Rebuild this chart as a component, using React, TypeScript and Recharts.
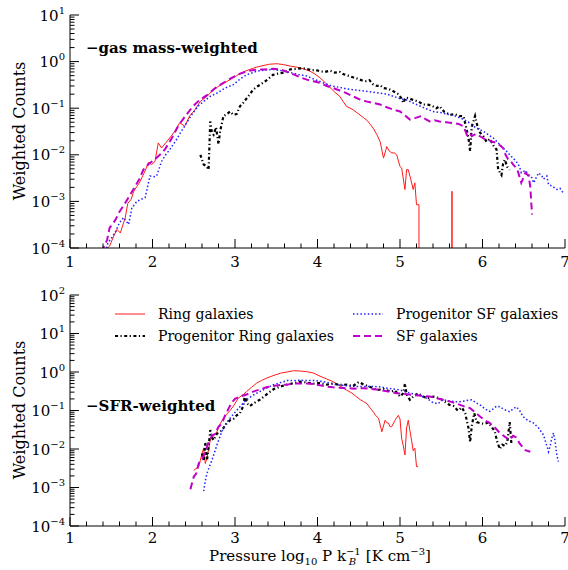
import { LineChart, Line, XAxis, YAxis } from 'recharts';

// x axis (log10 pressure) and y decades
const xMajor = [1, 2, 3, 4, 5, 6, 7];
const gasDecades = [-4, -3, -2, -1, 0, 1];
const sfrDecades = [-4, -3, -2, -1, 0, 1, 2];

const seriesNames = ['Ring galaxies', 'Progenitor Ring galaxies', 'Progenitor SF galaxies', 'SF galaxies'];

// ---- gas mass-weighted panel: [log10 P, counts]
const ringGas = [
  [1.40, 8e-5], [1.48, 1.1e-4], [1.53, 1.8e-4], [1.57, 2.5e-4], [1.61, 2.1e-4], [1.67, 4.5e-4], [1.70, 9e-4],
  [1.74, 1.1e-3], [1.77, 1.6e-3], [1.81, 2.1e-3], [1.84, 2.5e-3], [1.87, 3.2e-3], [1.91, 4.5e-3], [1.95, 6.8e-3],
  [1.99, 6.2e-3], [2.03, 7.2e-3], [2.07, 1.8e-2], [2.11, 1.4e-2], [2.16, 1.8e-2], [2.21, 2.3e-2], [2.27, 3.2e-2],
  [2.33, 4.9e-2], [2.39, 4.1e-2], [2.45, 6.8e-2], [2.51, 9e-2], [2.58, 0.14], [2.66, 0.18], [2.72, 0.23],
  [2.78, 0.28], [2.86, 0.34], [2.94, 0.41], [3.02, 0.5], [3.10, 0.6], [3.18, 0.68], [3.26, 0.76], [3.34, 0.82],
  [3.42, 0.88], [3.51, 0.9], [3.59, 0.86], [3.67, 0.8], [3.75, 0.76], [3.83, 0.7], [3.91, 0.62], [3.97, 0.54],
  [4.03, 0.45], [4.09, 0.36], [4.15, 0.28], [4.21, 0.22], [4.27, 0.18], [4.31, 0.14], [4.35, 0.11], [4.43, 0.093],
  [4.50, 0.075], [4.56, 0.062], [4.60, 0.055], [4.64, 0.045], [4.68, 0.036], [4.72, 0.027], [4.76, 0.019],
  [4.80, 0.0085], [4.84, 0.015], [4.87, 0.012], [4.90, 0.011], [4.93, 0.011], [4.96, 0.01], [5.00, 0.0056],
  [5.02, 0.0052], [5.06, 0.0018], [5.08, 0.0048], [5.10, 0.0048], [5.13, 0.003], [5.16, 0.0018], [5.18, 0.0025],
  [5.20, 0.00085], [5.23, 0.00085], [5.231, 1e-9], [5.629, 1e-9], [5.63, 1.65e-3], [5.631, 1e-9],
];
const progRingGas = [
  [2.58, 0.01], [2.62, 0.0062], [2.66, 0.0056], [2.68, 0.0048], [2.70, 0.052], [2.72, 0.03], [2.74, 0.027],
  [2.77, 0.039], [2.80, 0.017], [2.82, 0.032], [2.86, 0.068], [2.90, 0.074], [2.94, 0.085], [2.98, 0.072],
  [3.02, 0.075], [3.06, 0.11], [3.10, 0.13], [3.16, 0.18], [3.22, 0.25], [3.28, 0.3], [3.34, 0.35], [3.40, 0.42],
  [3.46, 0.52], [3.52, 0.55], [3.59, 0.58], [3.67, 0.68], [3.75, 0.7], [3.82, 0.72], [3.87, 0.7], [3.93, 0.65],
  [3.98, 0.66], [4.03, 0.62], [4.09, 0.6], [4.15, 0.64], [4.21, 0.58], [4.27, 0.6], [4.31, 0.54], [4.37, 0.5],
  [4.43, 0.46], [4.47, 0.44], [4.53, 0.4], [4.59, 0.38], [4.63, 0.4], [4.67, 0.33], [4.72, 0.3], [4.76, 0.31],
  [4.80, 0.27], [4.86, 0.26], [4.92, 0.23], [4.98, 0.2], [5.02, 0.16], [5.04, 0.13], [5.07, 0.17], [5.12, 0.16],
  [5.16, 0.15], [5.22, 0.14], [5.28, 0.12], [5.32, 0.12], [5.38, 0.115], [5.44, 0.1], [5.48, 0.11], [5.54, 0.082],
  [5.61, 0.072], [5.66, 0.075], [5.72, 0.068], [5.77, 0.067], [5.80, 0.04], [5.83, 0.023], [5.85, 0.012],
  [5.87, 0.04], [5.91, 0.068], [5.94, 0.04], [5.97, 0.03], [6.01, 0.025], [6.05, 0.019], [6.09, 0.022],
  [6.13, 0.016], [6.17, 0.013], [6.19, 0.0048], [6.21, 0.0042], [6.23, 0.0037], [6.25, 0.0065], [6.27, 0.0079],
  [6.30, 0.0055], [6.33, 0.0048],
];
const progSfGas = [
  [1.42, 7e-5], [1.46, 1.3e-4], [1.50, 1.6e-4], [1.55, 2.2e-4], [1.60, 3.5e-4], [1.65, 4.5e-4], [1.71, 3.2e-4],
  [1.75, 7.2e-4], [1.81, 1e-3], [1.86, 1.1e-3], [1.91, 1.2e-3], [1.97, 3.5e-3], [2.02, 3.4e-3], [2.05, 3.5e-3],
  [2.11, 7.2e-3], [2.16, 1e-2], [2.21, 1.3e-2], [2.29, 2.1e-2], [2.34, 3e-2], [2.39, 4.1e-2], [2.44, 5.8e-2],
  [2.49, 7.9e-2], [2.55, 0.11], [2.62, 0.14], [2.70, 0.18], [2.78, 0.21], [2.88, 0.27], [2.98, 0.32],
  [3.06, 0.42], [3.14, 0.52], [3.26, 0.62], [3.36, 0.66], [3.46, 0.68], [3.56, 0.64], [3.67, 0.58], [3.77, 0.53],
  [3.87, 0.49], [3.97, 0.41], [4.07, 0.35], [4.17, 0.3], [4.27, 0.28], [4.35, 0.26], [4.43, 0.25], [4.51, 0.24],
  [4.59, 0.23], [4.67, 0.22], [4.76, 0.21], [4.84, 0.2], [4.92, 0.18], [5.00, 0.16], [5.08, 0.15], [5.20, 0.12],
  [5.30, 0.1], [5.40, 0.085], [5.50, 0.08], [5.61, 0.072], [5.69, 0.066], [5.77, 0.057], [5.83, 0.05],
  [5.89, 0.041], [5.95, 0.036], [6.01, 0.032], [6.07, 0.027], [6.13, 0.023], [6.19, 0.018], [6.25, 0.014],
  [6.29, 0.012], [6.33, 0.01], [6.37, 0.0085], [6.41, 0.0072], [6.45, 0.0055], [6.47, 0.0041], [6.52, 0.0046],
  [6.56, 0.0037], [6.60, 0.0032], [6.62, 0.0025], [6.66, 0.0035], [6.68, 0.0041], [6.72, 0.0035], [6.74, 0.003],
  [6.78, 0.0035], [6.80, 0.0023], [6.85, 0.0021], [6.90, 0.0018], [6.94, 0.0019], [6.98, 0.0015],
];
const sfGas = [
  [1.38, 8e-5], [1.45, 1.5e-4], [1.48, 2.7e-4], [1.55, 4e-4], [1.60, 6e-4], [1.67, 9.3e-4], [1.72, 1.3e-3],
  [1.79, 2.1e-3], [1.84, 3e-3], [1.89, 4.8e-3], [1.96, 6.5e-3], [2.03, 8e-3], [2.09, 1e-2], [2.15, 1.3e-2],
  [2.23, 2.2e-2], [2.31, 4.1e-2], [2.36, 5.5e-2], [2.41, 7.2e-2], [2.49, 0.11], [2.57, 0.15], [2.66, 0.19],
  [2.76, 0.27], [2.86, 0.35], [2.96, 0.45], [3.06, 0.55], [3.16, 0.63], [3.26, 0.67], [3.36, 0.68], [3.46, 0.7],
  [3.55, 0.68], [3.63, 0.6], [3.71, 0.53], [3.79, 0.46], [3.87, 0.41], [3.95, 0.38], [4.03, 0.35], [4.11, 0.3],
  [4.19, 0.27], [4.27, 0.24], [4.35, 0.21], [4.43, 0.18], [4.51, 0.155], [4.59, 0.14], [4.67, 0.13], [4.76, 0.12],
  [4.84, 0.105], [4.92, 0.093], [5.00, 0.085], [5.06, 0.07], [5.12, 0.057], [5.19, 0.062], [5.26, 0.068],
  [5.31, 0.058], [5.36, 0.052], [5.42, 0.055], [5.48, 0.052], [5.56, 0.05], [5.65, 0.048], [5.71, 0.046],
  [5.77, 0.041], [5.81, 0.027], [5.84, 0.03], [5.87, 0.025], [5.92, 0.028], [5.97, 0.025], [6.02, 0.022],
  [6.07, 0.021], [6.12, 0.019], [6.17, 0.018], [6.21, 0.016], [6.25, 0.014], [6.28, 0.01], [6.31, 0.008],
  [6.34, 0.0075], [6.37, 0.0062], [6.42, 0.005], [6.47, 0.0025], [6.52, 0.0041], [6.56, 0.0035], [6.58, 0.002],
  [6.60, 0.00052],
];

// ---- SFR-weighted panel
const ringSfr = [
  [2.50, 0.0028], [2.56, 0.0035], [2.60, 0.0075], [2.62, 0.0105], [2.64, 0.0042], [2.66, 0.0058], [2.70, 0.017],
  [2.74, 0.022], [2.78, 0.028], [2.82, 0.045], [2.86, 0.063], [2.90, 0.08], [2.94, 0.1], [2.98, 0.13],
  [3.04, 0.21], [3.10, 0.26], [3.14, 0.31], [3.20, 0.4], [3.26, 0.51], [3.32, 0.6], [3.38, 0.69], [3.46, 0.8],
  [3.55, 0.93], [3.63, 1.0], [3.71, 1.08], [3.79, 1.06], [3.87, 1.02], [3.95, 0.94], [4.03, 0.78], [4.11, 0.66],
  [4.19, 0.56], [4.27, 0.44], [4.35, 0.34], [4.41, 0.29], [4.47, 0.23], [4.52, 0.19], [4.56, 0.17], [4.60, 0.15],
  [4.64, 0.115], [4.68, 0.09], [4.70, 0.076], [4.74, 0.063], [4.78, 0.028], [4.82, 0.056], [4.84, 0.048],
  [4.86, 0.047], [4.88, 0.038], [4.90, 0.038], [4.94, 0.056], [4.98, 0.075], [5.00, 0.06], [5.02, 0.019],
  [5.04, 0.012], [5.06, 0.007], [5.08, 0.035], [5.10, 0.056], [5.12, 0.03], [5.14, 0.017], [5.16, 0.009],
  [5.18, 0.0105], [5.20, 0.0035], [5.22, 0.0035],
];
const progRingSfr = [
  [2.60, 0.0076], [2.62, 0.0048], [2.64, 0.015], [2.66, 0.0051], [2.68, 0.011], [2.70, 0.031], [2.72, 0.02],
  [2.74, 0.017], [2.78, 0.025], [2.82, 0.028], [2.86, 0.035], [2.90, 0.047], [2.94, 0.056], [2.98, 0.06],
  [3.02, 0.075], [3.06, 0.085], [3.10, 0.13], [3.12, 0.25], [3.15, 0.15], [3.18, 0.13], [3.22, 0.15],
  [3.26, 0.17], [3.30, 0.19], [3.35, 0.23], [3.40, 0.28], [3.47, 0.36], [3.55, 0.42], [3.63, 0.47], [3.71, 0.51],
  [3.79, 0.56], [3.87, 0.53], [3.95, 0.5], [4.03, 0.52], [4.11, 0.47], [4.19, 0.5], [4.27, 0.46], [4.35, 0.47],
  [4.43, 0.43], [4.50, 0.55], [4.56, 0.47], [4.64, 0.41], [4.72, 0.34], [4.80, 0.36], [4.88, 0.31], [4.94, 0.33],
  [5.00, 0.23], [5.04, 0.28], [5.06, 0.5], [5.08, 0.26], [5.12, 0.19], [5.16, 0.23], [5.22, 0.28], [5.28, 0.23],
  [5.34, 0.21], [5.40, 0.23], [5.48, 0.21], [5.54, 0.17], [5.60, 0.14], [5.65, 0.13], [5.70, 0.1], [5.75, 0.12],
  [5.79, 0.085], [5.83, 0.035], [5.85, 0.015], [5.87, 0.04], [5.90, 0.085], [5.93, 0.05], [5.97, 0.047],
  [6.02, 0.045], [6.07, 0.049], [6.11, 0.038], [6.15, 0.028], [6.18, 0.015], [6.21, 0.01], [6.24, 0.013],
  [6.27, 0.012], [6.30, 0.015], [6.33, 0.05], [6.35, 0.014],
];
const progSfSfr = [
  [2.62, 0.0008], [2.64, 0.0015], [2.66, 0.0023], [2.69, 0.0035], [2.72, 0.0051], [2.75, 0.008], [2.78, 0.0126],
  [2.81, 0.019], [2.84, 0.028], [2.88, 0.042], [2.92, 0.056], [2.97, 0.075], [3.02, 0.1], [3.08, 0.14],
  [3.14, 0.19], [3.22, 0.25], [3.30, 0.31], [3.38, 0.38], [3.46, 0.46], [3.55, 0.53], [3.63, 0.6], [3.71, 0.6],
  [3.79, 0.61], [3.87, 0.6], [3.95, 0.6], [4.03, 0.58], [4.11, 0.54], [4.19, 0.49], [4.27, 0.46], [4.35, 0.44],
  [4.44, 0.42], [4.52, 0.42], [4.60, 0.42], [4.68, 0.42], [4.76, 0.41], [4.84, 0.38], [4.92, 0.36], [5.00, 0.34],
  [5.08, 0.3], [5.16, 0.27], [5.24, 0.25], [5.32, 0.21], [5.40, 0.16], [5.46, 0.15], [5.52, 0.19], [5.58, 0.18],
  [5.65, 0.17], [5.73, 0.17], [5.80, 0.18], [5.87, 0.19], [5.92, 0.16], [5.97, 0.14], [6.03, 0.11], [6.09, 0.095],
  [6.13, 0.11], [6.17, 0.13], [6.21, 0.125], [6.25, 0.11], [6.29, 0.1], [6.33, 0.093], [6.37, 0.11], [6.41, 0.125],
  [6.45, 0.1], [6.49, 0.07], [6.55, 0.055], [6.62, 0.047], [6.68, 0.035], [6.74, 0.023], [6.78, 0.012],
  [6.80, 0.0085], [6.82, 0.012], [6.84, 0.019], [6.86, 0.026], [6.88, 0.016], [6.90, 0.0071], [6.92, 0.0047],
];
const sfSfr = [
  [2.46, 0.0009], [2.47, 0.0011], [2.50, 0.0019], [2.53, 0.0023], [2.56, 0.0042], [2.60, 0.0055], [2.64, 0.0085],
  [2.68, 0.015], [2.72, 0.022], [2.76, 0.025], [2.80, 0.038], [2.84, 0.045], [2.88, 0.075], [2.92, 0.11],
  [2.96, 0.16], [3.00, 0.2], [3.06, 0.23], [3.14, 0.26], [3.22, 0.31], [3.30, 0.35], [3.38, 0.4], [3.46, 0.43],
  [3.55, 0.46], [3.63, 0.47], [3.71, 0.5], [3.79, 0.5], [3.87, 0.5], [3.95, 0.49], [4.03, 0.45], [4.11, 0.42],
  [4.19, 0.4], [4.27, 0.39], [4.35, 0.38], [4.45, 0.37], [4.56, 0.38], [4.66, 0.36], [4.76, 0.34], [4.86, 0.31],
  [4.96, 0.28], [5.06, 0.27], [5.16, 0.25], [5.26, 0.24], [5.36, 0.23], [5.44, 0.21], [5.52, 0.19], [5.61, 0.17],
  [5.69, 0.15], [5.77, 0.13], [5.85, 0.115], [5.91, 0.09], [5.97, 0.07], [6.03, 0.055], [6.09, 0.047],
  [6.15, 0.036], [6.21, 0.026], [6.27, 0.021], [6.33, 0.017], [6.37, 0.022], [6.41, 0.02], [6.45, 0.014],
  [6.49, 0.011], [6.52, 0.0093], [6.58, 0.0085],
];

const FONT = '"DejaVu Serif", "Liberation Serif", serif';

const lineStyles = [
  { stroke: '#ff1a1a', strokeWidth: 1 },
  { stroke: '#000000', strokeWidth: 2.2, strokeDasharray: '3 2.5 1.2 2.5' },
  { stroke: '#1f1fff', strokeWidth: 1.5, strokeDasharray: '1.5 2.2' },
  { stroke: '#c000c8', strokeWidth: 2, strokeDasharray: '7 4' },
];

const pts = (arr: number[][]) => arr.map(([x, y]) => ({ x, y }));
const xTicks = xMajor.slice(0, -1)
  .flatMap((m) => [0, 0.2, 0.4, 0.6, 0.8].map((f) => +(m + f).toFixed(1)))
  .concat([xMajor[xMajor.length - 1]]);
const logTicks = (decs: number[]) => decs.slice(0, -1)
  .flatMap((d) => [1, 2, 3, 4, 5, 6, 7, 8, 9].map((k) => k * Math.pow(10, d)))
  .concat([Math.pow(10, decs[decs.length - 1])]);

const isMajorX = (v: number) => Math.abs(v - Math.round(v)) < 1e-6;
const isMajorY = (v: number) => {
  const l = Math.log10(v);
  return Math.abs(l - Math.round(l)) < 1e-6;
};
const MAJ = 9;
const MIN = 4.5;

function BottomTick({ x, y, payload, labelOffset }: any) {
  const v = payload.value;
  const major = isMajorX(v);
  return (
    <g>
      <line x1={x} x2={x} y1={y} y2={y - (major ? MAJ : MIN)} stroke="#000" />
      {major && (
        <text x={x} y={y + labelOffset} textAnchor="middle" fontSize={15} fontFamily={FONT} fill="#000">
          {Math.round(v)}
        </text>
      )}
    </g>
  );
}
function TopTick({ x, y, payload }: any) {
  const major = isMajorX(payload.value);
  return <line x1={x} x2={x} y1={y} y2={y + (major ? MAJ : MIN)} stroke="#000" />;
}
function LeftTick({ x, y, payload }: any) {
  const v = payload.value;
  const major = isMajorY(v);
  const e = Math.round(Math.log10(v));
  return (
    <g>
      <line x1={x} x2={x + (major ? MAJ : MIN)} y1={y} y2={y} stroke="#000" />
      {major && (
        <text x={x - 5} y={y + 5.5} textAnchor="end" fontSize={15} fontFamily={FONT} fill="#000">
          10
          <tspan dy={-7} fontSize={10}>{e < 0 ? '\u2212' + -e : String(e)}</tspan>
        </text>
      )}
    </g>
  );
}
function RightTick({ x, y, payload }: any) {
  const major = isMajorY(payload.value);
  return <line x1={x} x2={x - (major ? MAJ : MIN)} y1={y} y2={y} stroke="#000" />;
}

function Panel({ height, xAxisHeight, decades, series, labelOffset }: any) {
  const yTicks = logTicks(decades);
  const yDomain = [Math.pow(10, decades[0]), Math.pow(10, decades[decades.length - 1])];
  const common = { type: 'number' as const, allowDataOverflow: true, interval: 0, tickSize: 0, tickMargin: 0, tickLine: false, axisLine: { stroke: '#000' } };
  return (
    <LineChart width={568} height={height} margin={{ top: 15, right: 3, bottom: 0, left: 10 }}>
      <XAxis xAxisId="b" dataKey="x" domain={[1, 7]} ticks={xTicks} height={xAxisHeight}
        tick={<BottomTick labelOffset={labelOffset} />} {...common} />
      <XAxis xAxisId="t" orientation="top" dataKey="x" domain={[1, 7]} ticks={xTicks} height={0}
        tick={<TopTick />} {...common} />
      <YAxis yAxisId="l" scale="log" domain={yDomain} ticks={yTicks} width={60}
        tick={<LeftTick />} {...common} />
      <YAxis yAxisId="r" orientation="right" scale="log" domain={yDomain} ticks={yTicks} width={0}
        tick={<RightTick />} {...common} />
      {series.map((s: number[][], i: number) => (
        <Line key={i} xAxisId="b" yAxisId="l" data={pts(s)} dataKey="y" type="linear" dot={false}
          activeDot={false} isAnimationActive={false} {...lineStyles[i]} />
      ))}
    </LineChart>
  );
}

export default function App() {
  const legendRows = [
    { i: 0, x: 115, y: 314 }, { i: 1, x: 115, y: 336 },
    { i: 2, x: 353, y: 314 }, { i: 3, x: 353, y: 336 },
  ];
  return (
    <div style={{ position: 'absolute', left: 0, top: 0, width: 568, height: 570, background: '#fff', fontFamily: FONT }}>
      <div style={{ position: 'absolute', left: 0, top: 0 }}>
        <Panel height={280} xAxisHeight={32} decades={gasDecades} labelOffset={19}
          series={[ringGas, progRingGas, progSfGas, sfGas]} />
      </div>
      <div style={{ position: 'absolute', left: 0, top: 280 }}>
        <Panel height={290} xAxisHeight={44} decades={sfrDecades} labelOffset={17}
          series={[ringSfr, progRingSfr, progSfSfr, sfSfr]} />
      </div>
      <svg width={568} height={570} fontFamily={FONT} style={{ position: 'absolute', left: 0, top: 0, pointerEvents: 'none' }}>
        <text transform="translate(25,131) rotate(-90)" textAnchor="middle" fontSize={16} fill="#000">Weighted Counts</text>
        <text transform="translate(25,410) rotate(-90)" textAnchor="middle" fontSize={16} fill="#000">Weighted Counts</text>
        <text x={86} y={53} fontSize={15} fontWeight="bold" fill="#000">{'\u2212gas mass-weighted'}</text>
        <text x={86} y={411} fontSize={15} fontWeight="bold" fill="#000">{'\u2212SFR-weighted'}</text>
        {legendRows.map((r) => (
          <g key={r.i}>
            <line x1={r.x} x2={r.x + 30} y1={r.y} y2={r.y} {...lineStyles[r.i]} />
            <text x={r.x + 43} y={r.y + 5} fontSize={14} fill="#000">{seriesNames[r.i]}</text>
          </g>
        ))}
        <text x={320} y={561} textAnchor="middle" fontSize={15} fill="#000">
          Pressure log<tspan dy={4} fontSize={10}>10</tspan>
          <tspan dy={-4}> P k</tspan>
          <tspan dy={-6} fontSize={10}>{'\u22121'}</tspan>
          <tspan dx={-12} dy={10} fontSize={10} fontStyle="italic">B</tspan>
          <tspan dx={5} dy={-4}> [K cm</tspan>
          <tspan dy={-6} fontSize={10}>{'\u22123'}</tspan>
          <tspan dy={6}>]</tspan>
        </text>
      </svg>
    </div>
  );
}
